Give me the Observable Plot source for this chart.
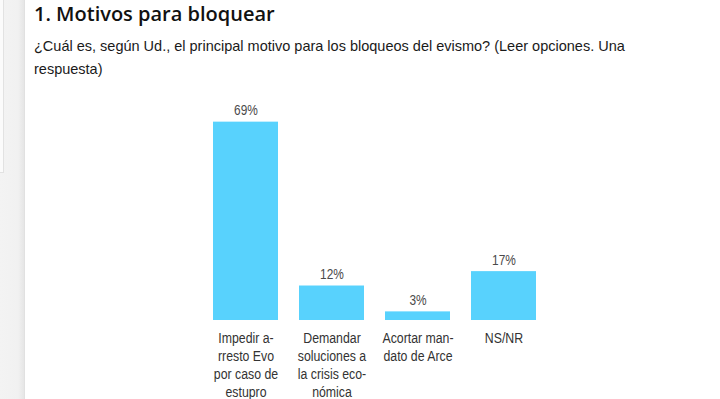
<!DOCTYPE html>
<html>
<head>
<meta charset="utf-8">
<script src="https://cdn.jsdelivr.net/npm/d3@7"></script>
<script src="https://cdn.jsdelivr.net/npm/@observablehq/plot@0.6"></script>
<style>
  html, body { margin: 0; padding: 0; width: 720px; height: 399px; overflow: hidden; background: #ffffff; }
  #strip { position: absolute; left: 0; top: 0; width: 25px; height: 399px;
    background: linear-gradient(to right, #f3f3f3 0px, #f1f1f1 18px, #e6e6e6 24px, #dcdcdc 25px); }
  #box { position: absolute; left: 0; top: 0; width: 3px; height: 172px; background: #fbfbfb; border-right: 1px solid #e2e2e2; border-bottom: 1px solid #e2e2e2; }
  #title { position: absolute; left: 34px; top: 0; font-family: "Open Sans", sans-serif; font-weight: 600; font-size: 20px; line-height: 28px; color: #111; white-space: nowrap; }
  #subtitle { position: absolute; left: 34px; top: 35px; font-family: "Liberation Sans", Arial, sans-serif; font-size: 14.5px; line-height: 23px; color: #1a1a1a; white-space: nowrap; }
  #chart { position: absolute; left: 0; top: 90px; }
</style>
</head>
<body>
<div id="strip"></div>
<div id="box"></div>
<div id="title">1. Motivos para bloquear</div>
<div id="subtitle">¿Cuál es, según Ud., el principal motivo para los bloqueos del evismo? (Leer opciones. Una<br>respuesta)</div>
<div id="chart"></div>
<script>
const categories = [
  "Impedir a-\nrresto Evo\npor caso de\nestupro",
  "Demandar\nsoluciones a\nla crisis eco-\nnómica",
  "Acortar man-\ndato de Arce",
  "NS/NR"
];
const values = [69, 12, 3, 17];
const valueLabels = ["69%", "12%", "3%", "17%"];

const data = categories.map((c, i) => ({cat: c, value: values[i], label: valueLabels[i]}));

const chart = Plot.plot({
  width: 720,
  height: 309,
  marginLeft: 191,
  marginRight: 161.7,
  marginTop: 14.4,
  marginBottom: 79,
  style: { fontFamily: "'Liberation Sans', Arial, sans-serif", background: "transparent" },
  x: { domain: categories, padding: 0.2385, axis: null },
  y: { domain: [0, 75], axis: null },
  marks: [
    Plot.barY(data, { x: "cat", y: "value", fill: "#58d2fd" }),
    Plot.text(data, { x: "cat", y: "value", text: "label", lineAnchor: "bottom", dy: -7, fontSize: 14, fill: "#4a4a4a" }),
    Plot.text(data, { x: "cat", y: () => 0, text: "cat", lineAnchor: "top", dy: 9.5, fontSize: 14.5, lineHeight: 1.25, fill: "#333" })
  ]
});
// condensed look of the original's narrow typeface
d3.select(chart).selectAll("g[aria-label='text'] text").each(function () {
  const t = this.getAttribute("transform") || "";
  this.setAttribute("transform", t + " scale(0.85,1)");
});
document.getElementById("chart").appendChild(chart);
</script>
</body>
</html>
